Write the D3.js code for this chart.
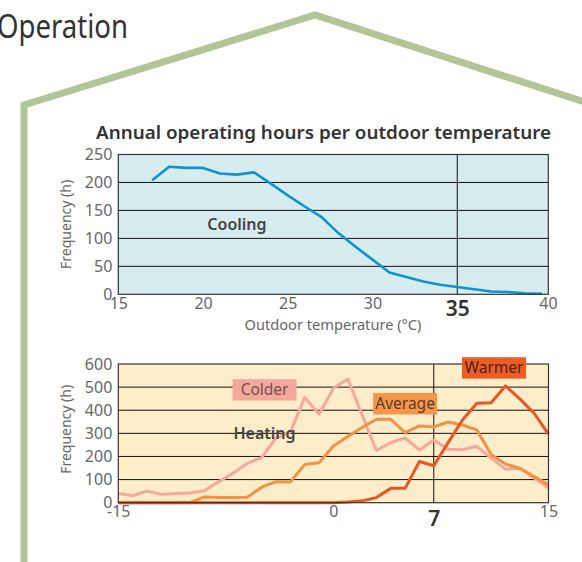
<!DOCTYPE html>
<html><head><meta charset="utf-8">
<script src="https://cdn.jsdelivr.net/npm/d3@7"></script>
<style>body{margin:0;background:#fff}svg{display:block}text{font-family:"Noto Sans",sans-serif}</style>
</head><body><svg id="c" width="582" height="562"></svg>
<script>
// ---------- data ----------
const coolingTemps = [17,18,19,20,21,22,23,24,25,26,27,28,29,30,31,32,33,34,35,36,37,38,39,40];
const coolingHours = [204,228,226,226,216,214,218,198,177,157,138,109,85,62,39,31,23,17,13,9,5,4,2,1];
const coolingTicks = [15,20,25,30,35,40];
const coolingYTicks = [0,50,100,150,200,250];

const heatingTemps = [-15,-14,-13,-12,-11,-10,-9,-8,-7,-6,-5,-4,-3,-2,-1,0,1,2,3,4,5,6,7,8,9,10,11,12,13,14,15];
const colderHours  = [40,30,50,36,40,42,52,91,127,170,195,280,305,455,383,495,535,380,226,260,280,228,271,231,229,244,193,145,149,107,63];
const averageHours = [0,0,0,0,0,0,25,22,22,24,67,91,90,165,173,245,286,325,361,361,303,332,328,349,336,315,209,167,149,113,77];
const warmerHours  = [0,0,0,0,0,0,0,0,0,0,0,0,0,0,0,0,3,8,22,62,62,178,160,260,358,430,432,505,449,387,297];
const heatingTicks = [-15,0,7,15];
const heatingYTicks = [0,100,200,300,400,500,600];
const seriesNames = ["Colder","Average","Warmer"];

const svg = d3.select("#c");
svg.append("rect").attr("width",582).attr("height",562).attr("fill","#fff");

// ---------- house outline ----------
svg.append("polyline")
  .attr("points",[[24,570],[24,105],[315,15],[600,107]].map(p=>p.join(",")).join(" "))
  .attr("fill","none").attr("stroke","#b2c597").attr("stroke-width",7).attr("stroke-linejoin","miter");

svg.append("text").attr("x",-3).attr("y",38).text("Operation")
  .attr("font-size",33).attr("fill","#333").attr("textLength",131).attr("lengthAdjust","spacingAndGlyphs");

svg.append("text").attr("x",96).attr("y",139).text("Annual operating hours per outdoor temperature")
  .attr("font-size",18).attr("font-weight",600).attr("fill","#333")
  .attr("textLength",455).attr("lengthAdjust","spacingAndGlyphs");

const grey="#666";

// ---------- cooling chart ----------
const cL=118.3, cR=548.3, cT=154.5, cB=294.3;
const xc = d3.scaleLinear().domain([15,40]).range([cL,542]);
const yc = d3.scaleLinear().domain([0,250]).range([cB,cT]);
const gc = svg.append("g");
gc.append("rect").attr("x",cL).attr("y",cT).attr("width",cR-cL).attr("height",cB-cT).attr("fill","#d6ecee");
gc.selectAll(".gl").data(coolingYTicks.slice(1,-1)).join("line")
  .attr("x1",cL).attr("x2",cR).attr("y1",d=>yc(d)).attr("y2",d=>yc(d)).attr("stroke","#111").attr("stroke-width",1);
gc.append("line").attr("x1",xc(35)).attr("x2",xc(35)).attr("y1",cT).attr("y2",cB).attr("stroke","#111");
gc.append("path").datum(coolingTemps.map((t,i)=>[t,coolingHours[i]]))
  .attr("d",d3.line().x(d=>xc(d[0])).y(d=>yc(d[1])))
  .attr("fill","none").attr("stroke","#0d93d4").attr("stroke-width",2.6).attr("stroke-linejoin","round");
gc.append("rect").attr("x",cL).attr("y",cT).attr("width",cR-cL).attr("height",cB-cT).attr("fill","none").attr("stroke","#333").attr("stroke-width",1.2);
const ycAxis = d3.axisLeft(yc).tickValues(coolingYTicks).tickSize(0).tickPadding(6);
const ga1 = gc.append("g").attr("transform",`translate(${cL},0)`).call(ycAxis);
ga1.select(".domain").remove();
ga1.selectAll("text").attr("font-size",16).attr("fill",grey).attr("font-family","Noto Sans");
const xcAxis = d3.axisBottom(xc).tickValues(coolingTicks).tickSize(0).tickPadding(3).tickFormat(d3.format("d"));
const ga2 = gc.append("g").attr("transform",`translate(0,${cB})`).call(xcAxis);
ga2.select(".domain").remove();
ga2.selectAll("text").attr("font-size",16).attr("fill",grey).attr("font-family","Noto Sans")
  .filter(d=>d===40).attr("dx",6);
ga2.selectAll("text").filter(d=>d===35).attr("font-size",21).attr("font-weight",600).attr("fill","#333").attr("dy","0.9em");
gc.append("text").attr("x",333).attr("y",330).attr("text-anchor","middle").text("Outdoor temperature (°C)")
  .attr("font-size",15).attr("fill",grey).attr("textLength",177).attr("lengthAdjust","spacingAndGlyphs");
gc.append("text").attr("transform",`translate(71,${(cT+cB)/2}) rotate(-90)`).attr("text-anchor","middle")
  .text("Frequency (h)").attr("font-size",15).attr("fill",grey).attr("textLength",89).attr("lengthAdjust","spacingAndGlyphs");
gc.append("text").attr("x",xc(22)).attr("y",yc(125)+6).attr("text-anchor","middle").text("Cooling")
  .attr("font-size",16).attr("font-weight",600).attr("fill","#444");

// ---------- heating chart ----------
const hL=118.3, hR=548.5, hT=364, hB=502.7;
const xh = d3.scaleLinear().domain([-15,15]).range([hL,hR]);
const yh = d3.scaleLinear().domain([0,600]).range([hB,hT]);
const gh = svg.append("g");
gh.append("rect").attr("x",hL).attr("y",hT).attr("width",hR-hL).attr("height",hB-hT).attr("fill","#fdedc8");
gh.selectAll(".gl").data(heatingYTicks.slice(1,-1)).join("line")
  .attr("x1",hL).attr("x2",hR).attr("y1",d=>yh(d)).attr("y2",d=>yh(d)).attr("stroke","#111").attr("stroke-width",1);
gh.append("line").attr("x1",xh(7)).attr("x2",xh(7)).attr("y1",hT).attr("y2",hB).attr("stroke","#111");
const series = [
  {name:seriesNames[0], vals:colderHours,  color:"#f7a89c", box:"#f5a79b", txt:"#6e5550", lx:-4.8, ly:488},
  {name:seriesNames[1], vals:averageHours, color:"#f39146", box:"#f5964b", txt:"#5a3e2a", lx:5.0,  ly:428},
  {name:seriesNames[2], vals:warmerHours,  color:"#ea5526", box:"#ee5b25", txt:"#4d2414", lx:11.2, ly:583}
];
const lineH = d3.line().x(d=>xh(d[0])).y(d=>yh(d[1]));
series.forEach(s=>{
  gh.append("path").datum(heatingTemps.map((t,i)=>[t,s.vals[i]])).attr("d",lineH)
    .attr("fill","none").attr("stroke",s.color).attr("stroke-width",3).attr("stroke-linejoin","round");
});
gh.append("rect").attr("x",hL).attr("y",hT).attr("width",hR-hL).attr("height",hB-hT).attr("fill","none").attr("stroke","#333").attr("stroke-width",1.2);
series.forEach(s=>{
  const cx=xh(s.lx), cy=yh(s.ly);
  gh.append("rect").attr("x",cx-32).attr("y",cy-10.7).attr("width",64).attr("height",21.4).attr("fill",s.box);
  gh.append("text").attr("x",cx).attr("y",cy+5.5).attr("text-anchor","middle").text(s.name)
    .attr("font-size",15.5).attr("fill",s.txt);
});
const yhAxis = d3.axisLeft(yh).tickValues(heatingYTicks).tickSize(0).tickPadding(6);
const gb1 = gh.append("g").attr("transform",`translate(${hL},0)`).call(yhAxis);
gb1.select(".domain").remove();
gb1.selectAll("text").attr("font-size",16).attr("fill",grey).attr("font-family","Noto Sans");
const xhAxis = d3.axisBottom(xh).tickValues(heatingTicks).tickSize(0).tickPadding(3).tickFormat(d=>d<0?"-"+Math.abs(d):d);
const gb2 = gh.append("g").attr("transform",`translate(0,${hB})`).call(xhAxis);
gb2.select(".domain").remove();
gb2.selectAll("text").attr("font-size",16).attr("fill",grey).attr("font-family","Noto Sans");
gb2.selectAll("text").filter(d=>d===7).attr("font-size",21).attr("font-weight",600).attr("fill","#333").attr("dy","0.95em");
gh.append("text").attr("transform",`translate(71,${(hT+hB)/2-4}) rotate(-90)`).attr("text-anchor","middle")
  .text("Frequency (h)").attr("font-size",15).attr("fill",grey).attr("textLength",89).attr("lengthAdjust","spacingAndGlyphs");
gh.append("text").attr("x",xh(-4.8)).attr("y",yh(300)+6).attr("text-anchor","middle").text("Heating")
  .attr("font-size",16).attr("font-weight",600).attr("fill","#444");
</script></body></html>
